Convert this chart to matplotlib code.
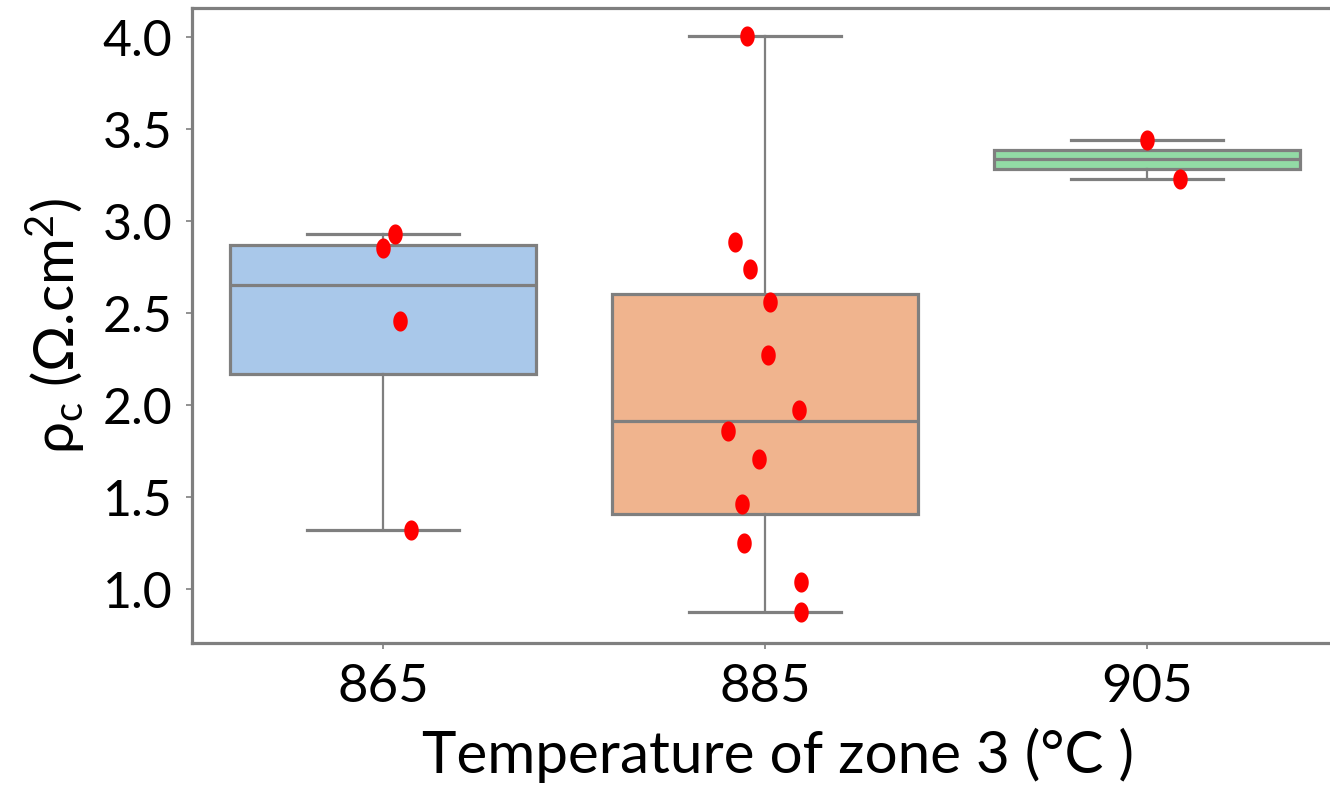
import numpy as np
import matplotlib
matplotlib.use("Agg")
import matplotlib.pyplot as plt
from matplotlib.path import Path

# Contact resistivity measurements per zone-3 temperature
categories = ["865", "885", "905"]
rho_865 = [1.32, 2.456, 2.853, 2.934]
rho_885 = [0.875, 1.038, 1.25, 1.462, 1.706, 1.863, 1.972, 2.276, 2.561, 2.743, 2.889, 4.009]
rho_905 = [3.231, 3.443]
# horizontal jitter of the individual points (category units)
jit_865 = [0.072, 0.045, 0.0, 0.032]
jit_885 = [0.095, 0.093, -0.054, -0.060, -0.015, -0.096, 0.090, 0.009, 0.014, -0.040, -0.078, -0.046]
jit_905 = [0.087, 0.0]

series = [rho_865, rho_885, rho_905]
jitters = [jit_865, jit_885, jit_905]
box_colors = ["#a9c8ea", "#f0b48e", "#92dba5"]
line_gray = "#7f7f7f"

plt.rcParams["font.family"] = ["Lato", "DejaVu Sans"]
plt.rcParams["mathtext.fontset"] = "custom"
plt.rcParams["mathtext.rm"] = "Lato"
plt.rcParams["mathtext.it"] = "Lato:italic"

W, H = 1330, 791
fig = plt.figure(figsize=(W / 100, H / 100), dpi=100)
# the plotting area runs slightly past the right edge of the canvas
ax = fig.add_axes([192 / W, 1 - 643 / H, (1338 - 192) / W, (643 - 8) / H])

pos = np.arange(len(categories))
bp = ax.boxplot(series, positions=pos, widths=0.8, capwidths=0.4, whis=1.5,
                patch_artist=True, showfliers=False,
                boxprops=dict(edgecolor=line_gray, linewidth=2.3),
                medianprops=dict(color=line_gray, linewidth=2.3),
                whiskerprops=dict(color=line_gray, linewidth=1.6),
                capprops=dict(color=line_gray, linewidth=2.3))
for patch, c in zip(bp["boxes"], box_colors):
    patch.set_facecolor(c)

# slightly tall elliptical point marker
t = np.linspace(0, 2 * np.pi, 60)
ellipse = Path(np.column_stack([0.72 * np.cos(t), np.sin(t)]), closed=True)
for i, (vals, jit) in enumerate(zip(series, jitters)):
    ax.plot(np.array(jit) + i, vals, linestyle="none", marker=ellipse,
            markersize=14.5, color="red", markeredgewidth=0, zorder=5)

ax.set_xlim(-0.5, 2.5)
ax.set_ylim(0.708, 4.16)
ax.set_xticks(pos)
ax.set_xticklabels(categories)
ax.set_yticks([1.0, 1.5, 2.0, 2.5, 3.0, 3.5, 4.0])
ax.set_yticklabels(["1.0", "1.5", "2.0", "2.5", "3.0", "3.5", "4.0"])

for sp in ax.spines.values():
    sp.set_color(line_gray)
    sp.set_linewidth(2.3)

ax.tick_params(axis="both", colors=line_gray, length=4, width=1.2,
               labelcolor="black")
ax.tick_params(axis="y", pad=10, labelsize=36)
ax.tick_params(axis="x", pad=11, labelsize=38)

ax.set_xlabel("Temperature of zone 3 (°C )", fontsize=42)
ax.xaxis.set_label_coords(0.511, -0.133)
ax.set_ylabel("ρ$_\\mathrm{c}$ (Ω.cm$^\\mathrm{2}$)", fontsize=41, labelpad=11)

fig.savefig("out.png", dpi=100)
